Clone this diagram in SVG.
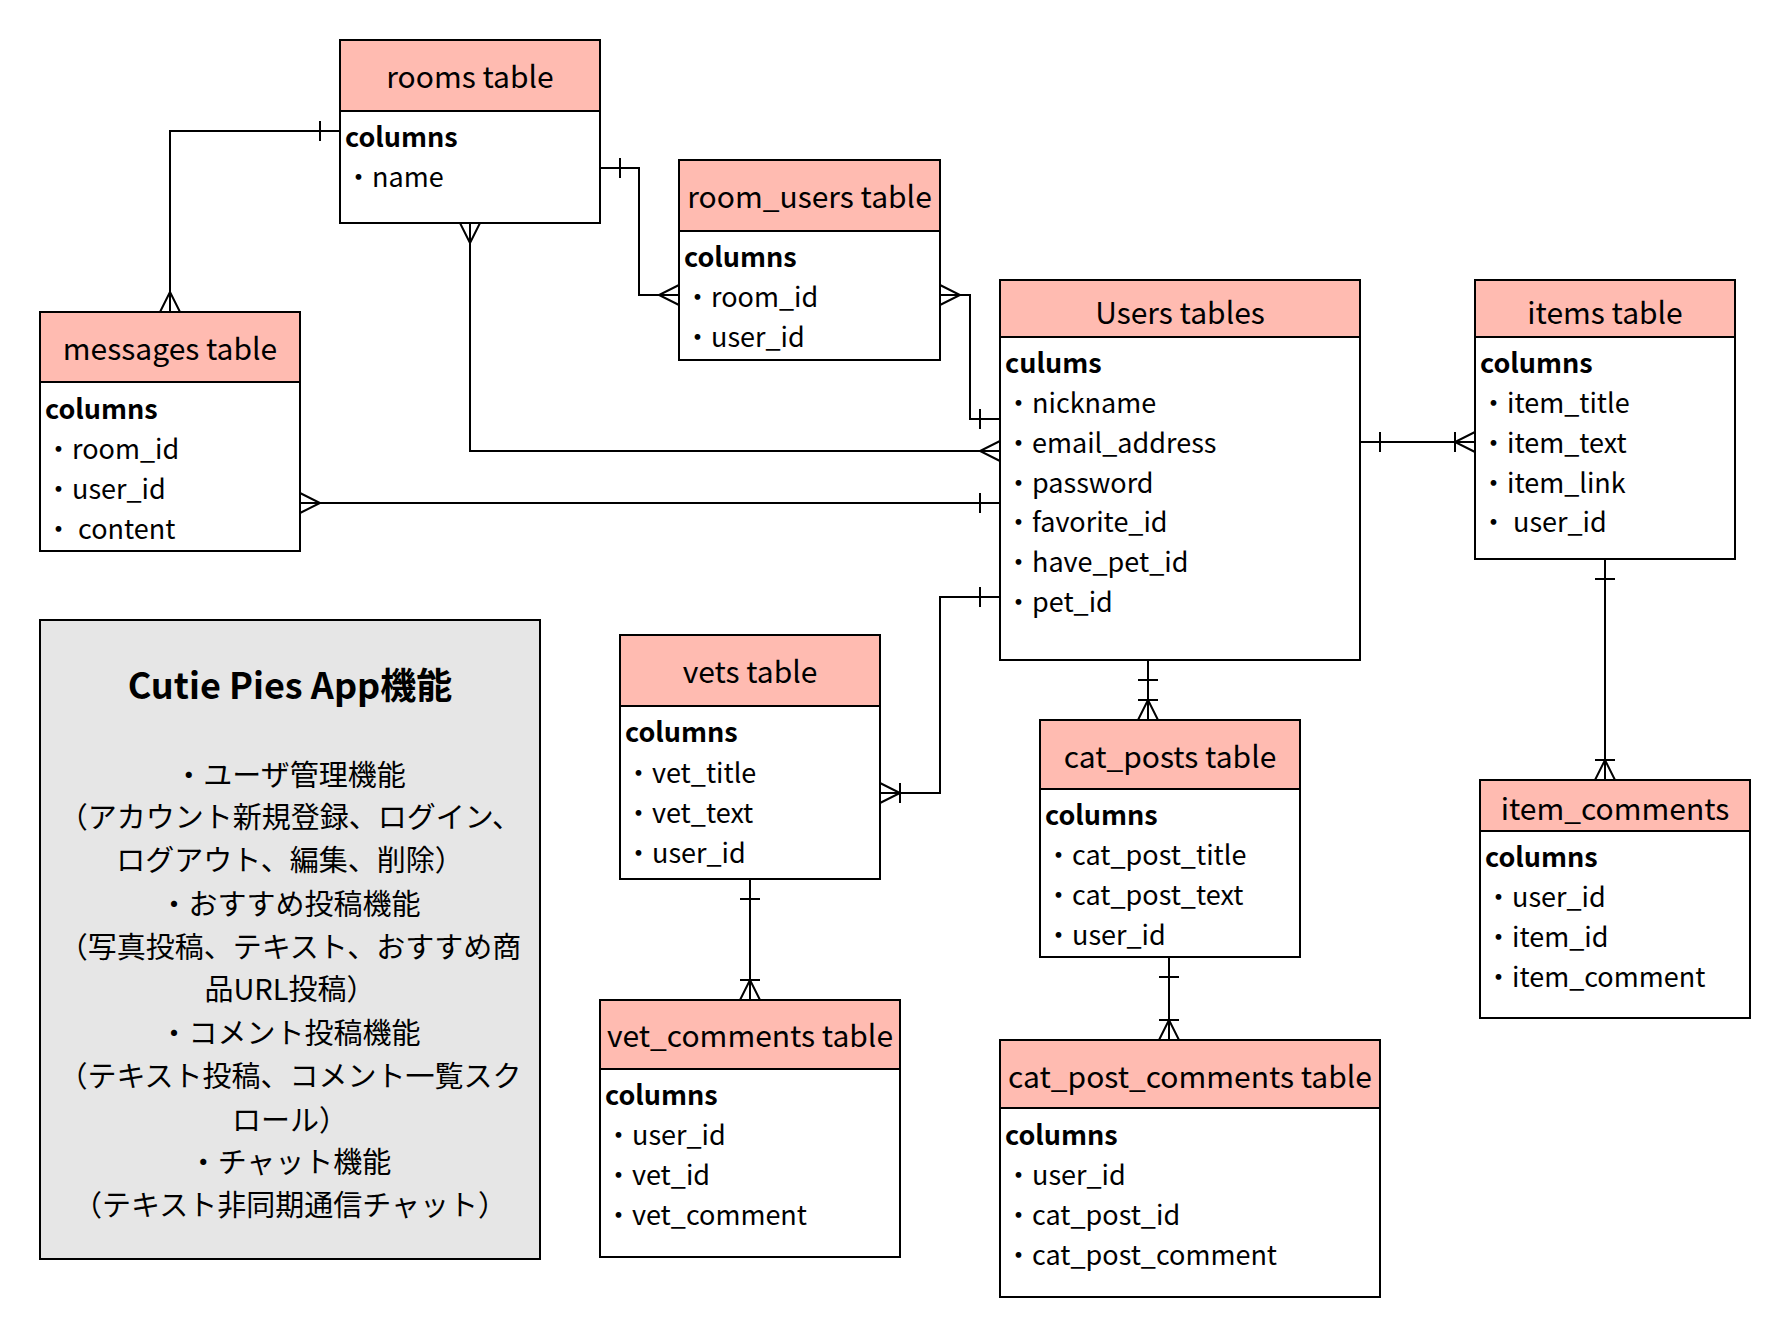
<svg xmlns="http://www.w3.org/2000/svg" width="1790" height="1336" viewBox="0 0 1790 1336">
<style>
text{font-family:"Noto Sans CJK JP","Noto Sans",sans-serif;fill:#000}
.hd{fill:#ffbbb1;stroke:#000;stroke-width:2}
.bd{fill:#fff;stroke:#000;stroke-width:2}
.ttl{font-size:30px;text-anchor:middle;dominant-baseline:central}
.col{font-size:27px;font-weight:bold;dominant-baseline:central}
.row{font-size:27px;dominant-baseline:central;white-space:pre}
.note{fill:#e6e6e6;stroke:#000;stroke-width:2}
.nt{font-size:29px;text-anchor:middle;dominant-baseline:central}
.nh{font-size:36px;font-weight:bold;text-anchor:middle;dominant-baseline:central}
.cn{fill:none;stroke:#000;stroke-width:2}
.mk{fill:none;stroke:#000;stroke-width:2}
</style>
<defs>
<marker id="many" markerUnits="userSpaceOnUse" viewBox="-30 -15 35 30" markerWidth="35" markerHeight="30" refX="0" refY="0" orient="auto-start-reverse"><path class="mk" d="M0,-10 L-20,0 L0,10"/></marker>
<marker id="one" markerUnits="userSpaceOnUse" viewBox="-30 -15 35 30" markerWidth="35" markerHeight="30" refX="0" refY="0" orient="auto-start-reverse"><path class="mk" d="M-20,-10 V10"/></marker>
<marker id="onemany" markerUnits="userSpaceOnUse" viewBox="-30 -15 35 30" markerWidth="35" markerHeight="30" refX="0" refY="0" orient="auto-start-reverse"><path class="mk" d="M-20,-10 V10 M0,-10 L-20,0 L0,10"/></marker>
</defs>
<g id="connectors">
<path class="cn" d="M340,131 H170 V312" marker-start="url(#one)" marker-end="url(#many)"/>
<path class="cn" d="M600,168 H639 V295 H679" marker-start="url(#one)" marker-end="url(#many)"/>
<path class="cn" d="M470,223 V451 H1000" marker-start="url(#many)" marker-end="url(#many)"/>
<path class="cn" d="M940,295 H970 V419 H1000" marker-start="url(#many)" marker-end="url(#one)"/>
<path class="cn" d="M300,503 H1000" marker-start="url(#many)" marker-end="url(#one)"/>
<path class="cn" d="M1360,442 H1475" marker-start="url(#one)" marker-end="url(#onemany)"/>
<path class="cn" d="M1000,597 H940 V793 H880" marker-start="url(#one)" marker-end="url(#onemany)"/>
<path class="cn" d="M1148,660 V720" marker-start="url(#one)" marker-end="url(#onemany)"/>
<path class="cn" d="M1605,559 V780" marker-start="url(#one)" marker-end="url(#onemany)"/>
<path class="cn" d="M750,879 V1000" marker-start="url(#one)" marker-end="url(#onemany)"/>
<path class="cn" d="M1169,957 V1040" marker-start="url(#one)" marker-end="url(#onemany)"/>
</g>
<g id="rooms">
<rect class="bd" x="340" y="40" width="260" height="183"/>
<rect class="hd" x="340" y="40" width="260" height="71"/>
<text class="ttl" x="470" y="75">rooms table</text>
<text class="col" x="345" y="135">columns</text>
<text class="row" x="345" y="175">・name</text>
</g>
<g id="room_users">
<rect class="bd" x="679" y="160" width="261" height="200"/>
<rect class="hd" x="679" y="160" width="261" height="71"/>
<text class="ttl" x="809.5" y="195">room_users table</text>
<text class="col" x="684" y="255">columns</text>
<text class="row" x="684" y="295">・room_id</text>
<text class="row" x="684" y="335">・user_id</text>
</g>
<g id="users">
<rect class="bd" x="1000" y="280" width="360" height="380"/>
<rect class="hd" x="1000" y="280" width="360" height="57"/>
<text class="ttl" x="1180" y="311">Users tables</text>
<text class="col" x="1005" y="361">culums</text>
<text class="row" x="1005" y="401">・nickname</text>
<text class="row" x="1005" y="441">・email_address</text>
<text class="row" x="1005" y="481">・password</text>
<text class="row" x="1005" y="520">・favorite_id</text>
<text class="row" x="1005" y="560">・have_pet_id</text>
<text class="row" x="1005" y="600">・pet_id</text>
</g>
<g id="items">
<rect class="bd" x="1475" y="280" width="260" height="279"/>
<rect class="hd" x="1475" y="280" width="260" height="57"/>
<text class="ttl" x="1605" y="311">items table</text>
<text class="col" x="1480" y="361">columns</text>
<text class="row" x="1480" y="401">・item_title</text>
<text class="row" x="1480" y="441">・item_text</text>
<text class="row" x="1480" y="481">・item_link</text>
<text class="row" x="1480" y="520">・ user_id</text>
</g>
<g id="messages">
<rect class="bd" x="40" y="312" width="260" height="239"/>
<rect class="hd" x="40" y="312" width="260" height="70"/>
<text class="ttl" x="170" y="347">messages table</text>
<text class="col" x="45" y="407">columns</text>
<text class="row" x="45" y="447">・room_id</text>
<text class="row" x="45" y="487">・user_id</text>
<text class="row" x="45" y="527">・ content</text>
</g>
<g id="features">
<rect class="note" x="40" y="620" width="500" height="639"/>
<text class="nh" x="290" y="683">Cutie Pies App機能</text>
<text class="nt" x="290" y="773">・ユーザ管理機能</text>
<text class="nt" x="290" y="815">（アカウント新規登録、ログイン、</text>
<text class="nt" x="290" y="858">ログアウト、編集、削除）</text>
<text class="nt" x="290" y="902">・おすすめ投稿機能</text>
<text class="nt" x="290" y="945">（写真投稿、テキスト、おすすめ商</text>
<text class="nt" x="290" y="987">品URL投稿）</text>
<text class="nt" x="290" y="1031">・コメント投稿機能</text>
<text class="nt" x="290" y="1074">（テキスト投稿、コメント一覧スク</text>
<text class="nt" x="290" y="1118">ロール）</text>
<text class="nt" x="290" y="1160">・チャット機能</text>
<text class="nt" x="290" y="1203">（テキスト非同期通信チャット）</text>
</g>
<g id="vets">
<rect class="bd" x="620" y="635" width="260" height="244"/>
<rect class="hd" x="620" y="635" width="260" height="71"/>
<text class="ttl" x="750" y="670">vets table</text>
<text class="col" x="625" y="730">columns</text>
<text class="row" x="625" y="771">・vet_title</text>
<text class="row" x="625" y="811">・vet_text</text>
<text class="row" x="625" y="851">・user_id</text>
</g>
<g id="cat_posts">
<rect class="bd" x="1040" y="720" width="260" height="237"/>
<rect class="hd" x="1040" y="720" width="260" height="69"/>
<text class="ttl" x="1170" y="755">cat_posts table</text>
<text class="col" x="1045" y="813">columns</text>
<text class="row" x="1045" y="853">・cat_post_title</text>
<text class="row" x="1045" y="893">・cat_post_text</text>
<text class="row" x="1045" y="933">・user_id</text>
</g>
<g id="item_comments">
<rect class="bd" x="1480" y="780" width="270" height="238"/>
<rect class="hd" x="1480" y="780" width="270" height="51"/>
<text class="ttl" x="1615" y="807">item_comments</text>
<text class="col" x="1485" y="855">columns</text>
<text class="row" x="1485" y="895">・user_id</text>
<text class="row" x="1485" y="935">・item_id</text>
<text class="row" x="1485" y="975">・item_comment</text>
</g>
<g id="vet_comments">
<rect class="bd" x="600" y="1000" width="300" height="257"/>
<rect class="hd" x="600" y="1000" width="300" height="69"/>
<text class="ttl" x="750" y="1034">vet_comments table</text>
<text class="col" x="605" y="1093">columns</text>
<text class="row" x="605" y="1133">・user_id</text>
<text class="row" x="605" y="1173">・vet_id</text>
<text class="row" x="605" y="1213">・vet_comment</text>
</g>
<g id="cat_post_comments">
<rect class="bd" x="1000" y="1040" width="380" height="257"/>
<rect class="hd" x="1000" y="1040" width="380" height="68"/>
<text class="ttl" x="1190" y="1075">cat_post_comments table</text>
<text class="col" x="1005" y="1133">columns</text>
<text class="row" x="1005" y="1173">・user_id</text>
<text class="row" x="1005" y="1213">・cat_post_id</text>
<text class="row" x="1005" y="1253">・cat_post_comment</text>
</g>
</svg>
